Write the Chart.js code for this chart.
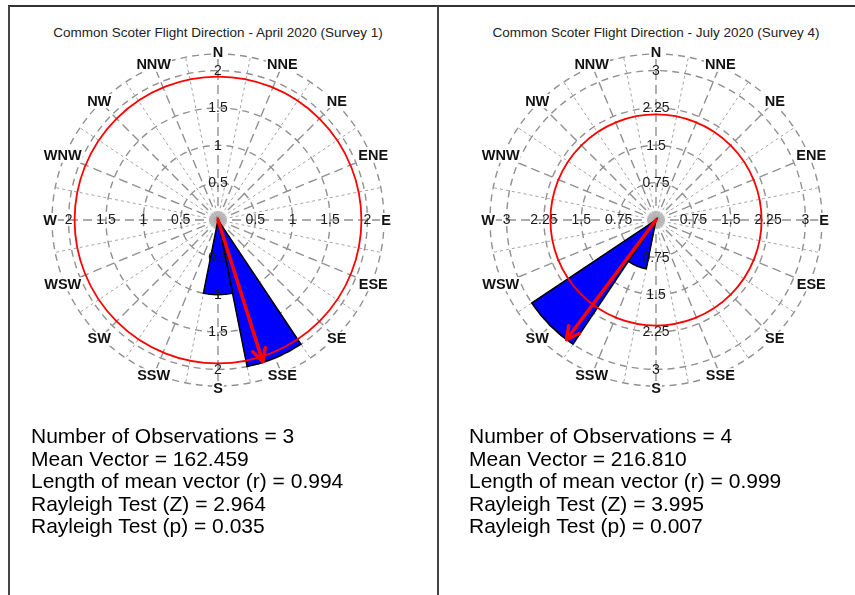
<!DOCTYPE html>
<html>
<head>
<meta charset="utf-8">
<script src="https://cdn.jsdelivr.net/npm/chart.js@4.4.1/dist/chart.umd.min.js"></script>
<style>
  html, body { margin: 0; padding: 0; background: #fff; }
  body { width: 855px; height: 595px; position: relative; overflow: hidden;
         font-family: 'Liberation Sans', Arial, sans-serif; }
  .rule { position: absolute; background: #333; }
  .title { position: absolute; top: 25px; width: 430px; text-align: center;
           font-size: 13.5px; line-height: 16px; color: #222; white-space: nowrap; }
  .stats { position: absolute; top: 425px; font-size: 21px; line-height: 22.5px;
           color: #000; white-space: pre; }
  canvas { position: absolute; }
</style>
</head>
<body>
<div class="rule" style="left:8px;top:5px;width:847px;height:2px;"></div>
<div class="rule" style="left:8px;top:6px;width:1.5px;height:589px;background:#444;"></div>
<div class="rule" style="left:437px;top:6px;width:1.5px;height:589px;background:#444;"></div>

<div class="title" id="titleA" style="left:3px;"></div>
<div class="title" id="titleB" style="left:441px;"></div>

<canvas id="roseA" width="420" height="420" style="left:8px;top:10px;width:420px;height:420px;"></canvas>
<canvas id="roseB" width="420" height="420" style="left:446px;top:10px;width:420px;height:420px;"></canvas>

<div class="stats" id="statsA" style="left:31px;"></div>
<div class="stats" id="statsB" style="left:469px;"></div>

<script>
// 16-point compass, clockwise from north; each bin is 22.5 degrees wide
const compassPoints = ['N','NNE','NE','ENE','E','ESE','SE','SSE','S','SSW','SW','WSW','W','WNW','NW','NNW'];

// Survey 1 (April 2020): observation counts per direction bin
const aprilCounts = [0,0,0,0,0,0,0,2,1,0,0,0,0,0,0,0];
const aprilTicks = [0.5, 1, 1.5, 2];
const aprilTickLabels = ['0.5', '1', '1.5', '2'];
const aprilMeanBearing = 162.459;
const aprilMeanLength = 0.994;
const aprilCircle = 1.92;
const aprilTitle = 'Common Scoter Flight Direction - April 2020 (Survey 1)';
const aprilStats = [
  'Number of Observations = 3',
  'Mean Vector = 162.459',
  'Length of mean vector (r) = 0.994',
  'Rayleigh Test (Z) = 2.964',
  'Rayleigh Test (p) = 0.035'
];

// Survey 4 (July 2020)
const julyCounts = [0,0,0,0,0,0,0,0,0,1,3,0,0,0,0,0];
const julyTicks = [0.75, 1.5, 2.25, 3];
const julyTickLabels = ['0.75', '1.5', '2.25', '3'];
const julyMeanBearing = 216.810;
const julyMeanLength = 0.999;
const julyCircle = 2.12;
const julyTitle = 'Common Scoter Flight Direction - July 2020 (Survey 4)';
const julyStats = [
  'Number of Observations = 4',
  'Mean Vector = 216.810',
  'Length of mean vector (r) = 0.999',
  'Rayleigh Test (Z) = 3.995',
  'Rayleigh Test (p) = 0.007'
];

const FONT = "'Liberation Sans', Arial, sans-serif";

function polar(scale, bearingDeg, dist) {
  const a = (bearingDeg - 90) * Math.PI / 180;
  return { x: scale.xCenter + dist * Math.cos(a), y: scale.yCenter + dist * Math.sin(a) };
}

// Grid, axis labels, reference circle and mean-vector arrow for the rose
const roseDecor = {
  id: 'roseDecor',
  beforeDatasetsDraw(chart, args, opts) {
    const s = chart.scales.r;
    const ctx = chart.ctx;
    const R = s.drawingArea;
    ctx.save();
    // minor spokes between compass points
    ctx.strokeStyle = '#a4a4a4';
    ctx.lineWidth = 1;
    ctx.setLineDash([3, 3]);
    for (let i = 0; i < 16; i++) {
      const p = polar(s, i * 22.5 + 11.25, R);
      ctx.beginPath(); ctx.moveTo(s.xCenter, s.yCenter); ctx.lineTo(p.x, p.y); ctx.stroke();
    }
    // main spokes on the compass points
    ctx.strokeStyle = '#909090';
    ctx.lineWidth = 1.4;
    ctx.setLineDash([9, 5]);
    for (let i = 0; i < 16; i++) {
      const p = polar(s, i * 22.5, R);
      ctx.beginPath(); ctx.moveTo(s.xCenter, s.yCenter); ctx.lineTo(p.x, p.y); ctx.stroke();
    }
    // rings at each tick and at the outer edge
    ctx.setLineDash([7, 5]);
    const rings = opts.ticks.concat([s.max]);
    rings.forEach(v => {
      ctx.beginPath();
      ctx.arc(s.xCenter, s.yCenter, s.getDistanceFromCenterForValue(v), 0, Math.PI * 2);
      ctx.stroke();
    });
    ctx.setLineDash([]);
    // dense hub where the spokes meet
    const g = ctx.createRadialGradient(s.xCenter, s.yCenter, 0, s.xCenter, s.yCenter, 11);
    g.addColorStop(0, 'rgba(170,170,170,0.95)');
    g.addColorStop(0.6, 'rgba(190,190,190,0.7)');
    g.addColorStop(1, 'rgba(220,220,220,0)');
    ctx.fillStyle = g;
    ctx.beginPath(); ctx.arc(s.xCenter, s.yCenter, 11, 0, Math.PI * 2); ctx.fill();
    ctx.restore();
  },
  afterDatasetsDraw(chart, args, opts) {
    const s = chart.scales.r;
    const ctx = chart.ctx;
    const R = s.drawingArea;
    ctx.save();
    // tick labels along the four cardinal spokes
    ctx.font = '14px ' + FONT;
    ctx.fillStyle = '#1a1a1a';
    ctx.textAlign = 'center';
    ctx.textBaseline = 'middle';
    [0, 90, 180, 270].forEach(b => {
      opts.ticks.forEach((v, i) => {
        const p = polar(s, b, s.getDistanceFromCenterForValue(v));
        ctx.fillText(opts.tickLabels[i], p.x, p.y + 0.5);
      });
    });
    // compass point labels just outside the outer ring
    ctx.font = 'bold 14.5px ' + FONT;
    compassPoints.forEach((name, i) => {
      const p = polar(s, i * 22.5, R + 2);
      const w = ctx.measureText(name).width;
      ctx.fillStyle = '#fff';
      ctx.fillRect(p.x - w / 2 - 1, p.y - 7, w + 2, 14);
      ctx.fillStyle = '#111';
      ctx.fillText(name, p.x, p.y + 0.5);
    });
    // reference circle
    ctx.strokeStyle = '#ff0000';
    ctx.lineWidth = 1.8;
    ctx.beginPath();
    ctx.arc(s.xCenter, s.yCenter, s.getDistanceFromCenterForValue(opts.circle), 0, Math.PI * 2);
    ctx.stroke();
    // mean vector arrow, length scaled to the largest tick
    const maxTick = opts.ticks[opts.ticks.length - 1];
    const len = s.getDistanceFromCenterForValue(opts.meanLength * maxTick);
    const tip = polar(s, opts.meanBearing, len);
    ctx.lineWidth = 3.5;
    ctx.lineCap = 'round';
    ctx.lineJoin = 'round';
    ctx.beginPath(); ctx.moveTo(s.xCenter, s.yCenter); ctx.lineTo(tip.x, tip.y); ctx.stroke();
    const back = (opts.meanBearing + 180) % 360;
    const h1 = polar({ xCenter: tip.x, yCenter: tip.y }, back - 28, 14);
    const h2 = polar({ xCenter: tip.x, yCenter: tip.y }, back + 28, 14);
    ctx.beginPath();
    ctx.moveTo(h1.x, h1.y); ctx.lineTo(tip.x, tip.y); ctx.lineTo(h2.x, h2.y);
    ctx.stroke();
    ctx.restore();
  }
};

function makeRose(id, counts, ticks, tickLabels, meanBearing, meanLength, circle) {
  const maxTick = ticks[ticks.length - 1];
  return new Chart(document.getElementById(id), {
    type: 'polarArea',
    data: {
      labels: compassPoints,
      datasets: [{
        data: counts,
        backgroundColor: '#0000ff',
        borderColor: '#000',
        borderWidth: 1.5,
        borderJoinStyle: 'miter'
      }]
    },
    options: {
      responsive: false,
      animation: false,
      devicePixelRatio: 1,
      events: [],
      layout: { padding: 44 },
      plugins: {
        legend: { display: false },
        tooltip: { enabled: false },
        roseDecor: { ticks, tickLabels, meanBearing, meanLength, circle }
      },
      scales: {
        r: {
          min: 0,
          max: maxTick * 10 / 9,
          startAngle: -11.25,
          ticks: { display: false, stepSize: ticks[0] },
          grid: { display: false },
          angleLines: { display: false },
          pointLabels: { display: false }
        }
      }
    },
    plugins: [roseDecor]
  });
}

document.getElementById('titleA').textContent = aprilTitle;
document.getElementById('titleB').textContent = julyTitle;
document.getElementById('statsA').textContent = aprilStats.join('\n');
document.getElementById('statsB').textContent = julyStats.join('\n');

makeRose('roseA', aprilCounts, aprilTicks, aprilTickLabels, aprilMeanBearing, aprilMeanLength, aprilCircle);
makeRose('roseB', julyCounts, julyTicks, julyTickLabels, julyMeanBearing, julyMeanLength, julyCircle);
</script>
</body>
</html>
